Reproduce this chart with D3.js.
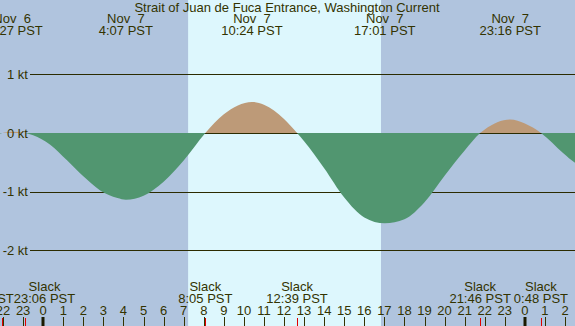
<!DOCTYPE html>
<html>
<head>
<meta charset="utf-8">
<script src="https://cdn.jsdelivr.net/npm/d3@7"></script>
<style>
  html, body { margin: 0; padding: 0; background: #b0c4de; }
  svg { display: block; font-family: "Liberation Sans", Arial, sans-serif; font-size: 13px; }
  text { fill: #333300; white-space: pre; }
</style>
</head>
<body>
<div id="chart"></div>
<script>
// hours relative to Nov 7 00:00 PST, current speed in knots (flood +, ebb -)
const hours = [-3, -2.03, -1.55, -0.9, -0.5, 0.35, 1.2, 2, 2.84, 3.7, 4.12, 5, 6, 7, 8.08, 9, 10.4, 11, 12, 12.65,
               13, 14, 15, 16, 17.02, 18, 19, 20, 21, 21.77, 22, 23.27, 24, 24.8, 25.9, 26.5, 27];
const knots = [-0.08, 0, 0.02, 0, -0.04, -0.2, -0.47, -0.74, -0.98, -1.11, -1.14, -1.07, -0.83, -0.47, 0, 0.32, 0.53, 0.48, 0.24, 0,
               -0.14, -0.6, -1.1, -1.44, -1.54, -1.47, -1.18, -0.73, -0.3, 0, 0.06, 0.23, 0.16, 0, -0.34, -0.51, -0.62];

// max current events (top labels)
const maxHours = [-1.55, 4.12, 10.4, 17.02, 23.27];
const maxDates = ['Nov  6', 'Nov  7', 'Nov  7', 'Nov  7', 'Nov  7'];
const maxTimes = ['22:27 PST', '4:07 PST', '10:24 PST', '17:01 PST', '23:16 PST'];

// slack events (bottom labels)
const slackHours = [-2.03, -0.9, 8.08, 12.65, 21.77, 24.8];
const slackTimes = ['21:58 PST', '23:06 PST', '8:05 PST', '12:39 PST', '21:46 PST', '0:48 PST'];

// daylight
const sunrise = 7.22;
const sunset = 16.83;

const ktTicks = [1, 0, -1, -2];
const hourTicks = d3.range(-2, 27);

const title = 'Strait of Juan de Fuca Entrance, Washington Current';

const width = 575, height = 326;

const svg = d3.select('#chart')
              .append('svg')
              .attr('width', width)
              .attr('height', height);

const xScale = d3.scaleLinear()
                 .domain([-2.152, 26.497])
                 .range([0, width]);

const yScale = d3.scaleLinear()
                 .domain([0, 1])
                 .range([133, 74.4]);

// background night / day
svg.append('rect')
   .attr('width', width)
   .attr('height', height)
   .attr('fill', '#b0c4de');

svg.append('rect')
   .attr('x', xScale(sunrise))
   .attr('width', xScale(sunset) - xScale(sunrise))
   .attr('height', height)
   .attr('fill', '#ddf7fd');

// grid lines
svg.selectAll('.grid')
   .data(ktTicks)
   .enter()
   .append('line')
   .attr('class', 'grid')
   .attr('x1', 30)
   .attr('x2', width)
   .attr('y1', d => Math.round(yScale(d)) + 0.5)
   .attr('y2', d => Math.round(yScale(d)) + 0.5)
   .attr('stroke', '#2b2b00')
   .attr('stroke-width', 1);

// current area, split at zero with clip paths
const data = hours.map((h, i) => [h, knots[i]]);
const y0 = yScale(0);

const area = d3.area()
               .x(d => xScale(d[0]))
               .y0(y0)
               .y1(d => yScale(d[1]))
               .curve(d3.curveMonotoneX);

const defs = svg.append('defs');
defs.append('clipPath').attr('id', 'above')
    .append('rect').attr('x', 0).attr('y', 0).attr('width', width).attr('height', y0);
defs.append('clipPath').attr('id', 'below')
    .append('rect').attr('x', 0).attr('y', y0).attr('width', width).attr('height', height - y0);

svg.append('path')
   .datum(data)
   .attr('d', area)
   .attr('fill', '#bd9a78')
   .attr('clip-path', 'url(#above)');

svg.append('path')
   .datum(data)
   .attr('d', area)
   .attr('fill', '#519670')
   .attr('clip-path', 'url(#below)');

// y labels
svg.selectAll('.ylab')
   .data(ktTicks)
   .enter()
   .append('text')
   .attr('class', 'ylab')
   .attr('x', 28)
   .attr('y', d => yScale(d) + 4.5)
   .attr('text-anchor', 'end')
   .text(d => d + ' kt');

// title
svg.append('text')
   .attr('x', 287)
   .attr('y', 12)
   .attr('text-anchor', 'middle')
   .text(title);

// max labels
const maxG = svg.selectAll('.maxlab')
                .data(maxHours)
                .enter()
                .append('g')
                .attr('class', 'maxlab');
maxG.append('text')
    .attr('x', d => xScale(d))
    .attr('y', 23)
    .attr('text-anchor', 'middle')
    .text((d, i) => maxDates[i]);
maxG.append('text')
    .attr('x', d => xScale(d))
    .attr('y', 35)
    .attr('text-anchor', 'middle')
    .text((d, i) => maxTimes[i]);

// slack labels, spread apart where they overlap
const slackG = svg.selectAll('.slacklab')
                  .data(slackHours)
                  .enter()
                  .append('g')
                  .attr('class', 'slacklab');
slackG.append('text')
      .attr('class', 'sword')
      .attr('y', 291)
      .attr('text-anchor', 'middle')
      .text('Slack');
slackG.append('text')
      .attr('class', 'stime')
      .attr('y', 303)
      .attr('text-anchor', 'middle')
      .text((d, i) => slackTimes[i]);

const labs = slackHours.map((h, i) => ({ c: xScale(h), w: 0 }));
slackG.select('.stime').each(function (d, i) { labs[i].w = this.getComputedTextLength(); });
for (let i = 1; i < labs.length; i++) {
  const a = labs[i - 1], b = labs[i];
  const overlap = (a.c + a.w / 2) - (b.c - b.w / 2);
  if (overlap > 0) {
    a.c -= overlap / 2;
    b.c += overlap / 2;
  }
}
slackG.selectAll('text').attr('x', function () {
  const i = slackHours.indexOf(d3.select(this.parentNode).datum());
  return labs[i].c;
});

// hour ticks and labels
svg.selectAll('.hlab')
   .data(hourTicks)
   .enter()
   .append('text')
   .attr('class', 'hlab')
   .attr('x', d => xScale(d))
   .attr('y', 315)
   .attr('text-anchor', 'middle')
   .text(d => ((d % 24) + 24) % 24);

svg.selectAll('.htick')
   .data(hourTicks)
   .enter()
   .append('rect')
   .attr('class', 'htick')
   .attr('x', d => (d % 24 === 0) ? Math.round(xScale(d)) - 1.5 : Math.round(xScale(d)))
   .attr('y', 317)
   .attr('width', d => (d % 24 === 0) ? 3 : 1)
   .attr('height', 9)
   .attr('fill', d => (d % 24 === 0) ? '#1a1a00' : '#333300');

svg.selectAll('.stick')
   .data(slackHours)
   .enter()
   .append('rect')
   .attr('class', 'stick')
   .attr('x', d => Math.round(xScale(d)))
   .attr('y', 318)
   .attr('width', 1)
   .attr('height', 8)
   .attr('fill', '#e00000');
</script>
</body>
</html>
